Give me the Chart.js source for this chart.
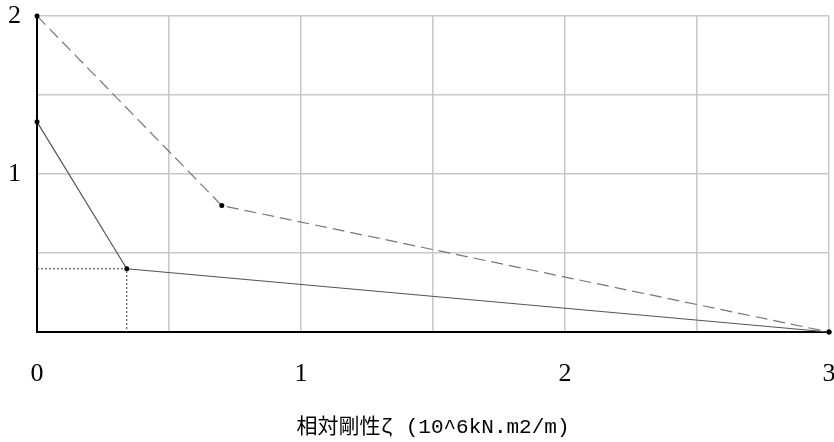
<!DOCTYPE html>
<html>
<head>
<meta charset="utf-8">
<script src="https://cdn.jsdelivr.net/npm/chart.js@4/dist/chart.umd.min.js"></script>
<style>
  html, body { margin: 0; padding: 0; background: #fff; }
  #wrap { width: 834px; height: 442px; }
</style>
</head>
<body>
<div id="wrap"><canvas id="chart"></canvas></div>
<script>
// data
var solidX  = [0, 0.34, 3];
var solidY  = [1.33, 0.4, 0];
var dashedX = [0, 0.7, 3];
var dashedY = [2, 0.8, 0];
var guideX  = [0, 0.34, 0.34];
var guideY  = [0.4, 0.4, 0];
var xLabels = [0, 1, 2, 3];
var yLabels = [1, 2];
var xTitle  = '相対剛性ζ (10^6kN.m2/m)';

function pts(xs, ys) {
  var out = [];
  for (var i = 0; i < xs.length; i++) out.push({ x: xs[i], y: ys[i] });
  return out;
}

var tickFont = { family: '"Liberation Serif", "DejaVu Serif", serif', size: 26 };

new Chart(document.getElementById('chart'), {
  type: 'scatter',
  data: {
    datasets: [
      {
        data: pts(guideX, guideY),
        showLine: true,
        borderColor: '#333',
        borderWidth: 1,
        borderDash: [2, 2],
        pointRadius: 0,
        clip: false
      },
      {
        data: pts(solidX, solidY),
        showLine: true,
        borderColor: '#555',
        borderWidth: 1.2,
        pointRadius: 2.5,
        pointBackgroundColor: '#000',
        pointBorderWidth: 0,
        clip: false
      },
      {
        data: pts(dashedX, dashedY),
        showLine: true,
        borderColor: '#777',
        borderWidth: 1.2,
        borderDash: [12, 6],
        pointRadius: 2.5,
        pointBackgroundColor: '#000',
        pointBorderWidth: 0,
        clip: false
      }
    ]
  },
  options: {
    responsive: true,
    maintainAspectRatio: false,
    animation: false,
    layout: { padding: { top: 16, right: 5, bottom: 0, left: 0 } },
    plugins: { legend: { display: false }, tooltip: { enabled: false } },
    scales: {
      x: {
        type: 'linear',
        min: 0,
        max: 3,
        afterFit: function(s) {
          s.height = 110;
          s.paddingLeft = 0;
          s.paddingRight = 0;
        },
        border: { color: '#000', width: 2 },
        grid: { color: '#c8c8c8', lineWidth: 1.5, drawTicks: false },
        ticks: {
          stepSize: 0.5,
          autoSkip: false,
          maxRotation: 0,
          padding: 27,
          color: '#000',
          font: tickFont,
          callback: function(v) { return xLabels.indexOf(v) >= 0 ? String(v) : ''; }
        },
        title: {
          display: true,
          text: xTitle,
          color: '#000',
          font: { family: '"Liberation Mono", "Noto Sans CJK JP", monospace', size: 21 },
          padding: { top: 0, bottom: 2 }
        }
      },
      y: {
        type: 'linear',
        min: 0,
        max: 2,
        afterFit: function(s) {
          s.width = 37;
          s.paddingTop = 0;
          s.paddingBottom = 0;
        },
        border: { color: '#000', width: 2 },
        grid: { color: '#c8c8c8', lineWidth: 1.5, drawTicks: false },
        ticks: {
          stepSize: 0.5,
          autoSkip: false,
          padding: 16,
          color: '#000',
          font: tickFont,
          callback: function(v) { return yLabels.indexOf(v) >= 0 ? String(v) : ''; }
        }
      }
    }
  }
});
</script>
</body>
</html>
